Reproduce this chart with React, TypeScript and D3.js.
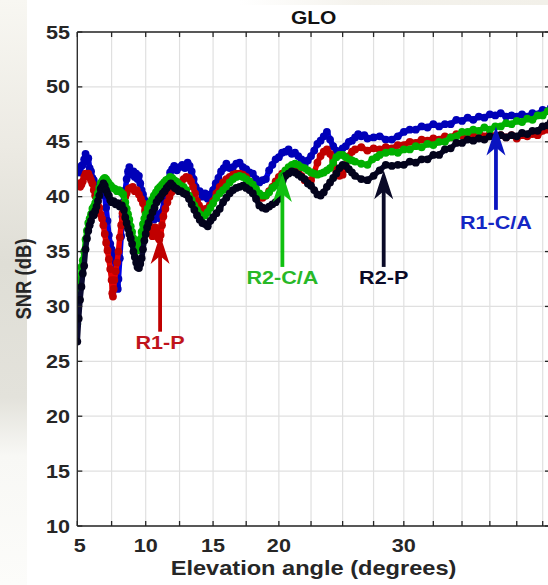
import React from 'react';
import * as d3 from 'd3';

const W = 548;
const H = 585;
const RAD = Math.PI / 180;

// Elevation (deg), SNR (dB)
const r1ca: [number, number][] = [
  [5.0,42.2],[5.1,42.6],[5.2,42.2],[5.3,42.8],[5.4,42.9],[5.5,43.4],[5.6,43.9],[5.65,43.5],[5.7,43.2],[5.8,43.5],[5.9,42.6],[6.0,42.3],[6.1,41.7],[6.2,41.5],[6.3,41.0],[6.4,40.8],[6.5,41.0],[6.6,40.5],[6.7,40.3],[6.8,40.6],[6.9,40.5],[7.0,40.1],[7.1,39.0],[7.2,37.8],[7.3,36.5],[7.4,35.7],[7.5,35.2],[7.6,34.8],[7.7,34.2],[7.8,33.2],[7.9,31.8],[7.95,31.6],[8.0,32.5],[8.1,34.4],[8.2,36.4],[8.3,38.2],[8.4,39.6],[8.5,40.6],[8.6,41.6],[8.7,42.3],[8.8,42.7],[8.9,42.3],[9.0,42.0],[9.1,42.3],[9.2,41.8],[9.3,42.1],[9.4,41.6],[9.5,41.9],[9.6,41.2],[9.7,40.6],[9.8,40.2],[9.9,39.7],[10.0,39.4],[10.1,39.0],[10.2,38.6],[10.3,38.3],[10.45,38.0],[10.6,37.9],[10.75,38.2],[10.9,38.4],[11.05,38.0],[11.2,38.6],[11.35,39.6],[11.5,40.7],[11.65,41.5],[11.8,42.2],[11.95,42.5],[12.1,42.8],[12.3,42.4],[12.5,42.7],[12.7,42.9],[12.9,42.6],[13.1,43.1],[13.25,42.8],[13.4,42.3],[13.55,41.6],[13.7,40.9],[13.85,40.5],[14.0,40.5],[14.2,40.0],[14.4,40.3],[14.6,39.8],[14.8,40.2],[15.0,40.6],[15.2,41.2],[15.4,41.7],[15.6,42.3],[15.8,42.6],[16.0,43.0],[16.25,42.6],[16.5,42.7],[16.75,43.0],[17.0,43.1],[17.25,42.7],[17.5,42.5],[17.75,42.2],[18.0,42.1],[18.25,41.6],[18.5,41.3],[18.75,41.5],[19.0,41.6],[19.25,42.4],[19.5,42.9],[19.75,43.4],[20.0,43.6],[20.25,44.0],[20.5,44.1],[20.75,44.3],[21.0,43.9],[21.25,44.0],[21.5,43.7],[21.75,43.4],[22.0,42.9],[22.25,43.3],[22.5,43.7],[22.75,44.2],[23.0,44.8],[23.25,45.1],[23.5,45.5],[23.75,45.9],[24.0,45.2],[24.25,44.6],[24.5,44.2],[24.75,44.0],[25.0,44.4],[25.25,44.6],[25.5,45.0],[25.75,45.1],[26.0,45.4],[26.25,45.7],[26.5,45.5],[26.75,45.6],[27.0,45.3],[27.5,45.4],[28.0,45.5],[28.5,45.2],[29.0,45.2],[29.5,45.5],[30.0,45.9],[30.5,46.1],[31.0,46.1],[31.5,46.4],[32.0,46.3],[32.5,46.6],[33.0,46.4],[33.5,46.6],[34.0,46.6],[34.5,47.0],[35.0,46.9],[35.5,47.2],[36.0,47.0],[36.5,47.3],[37.0,47.2],[37.5,47.5],[38.0,47.4],[38.5,47.6],[39.0,47.3],[39.5,47.4],[40.0,47.3],[40.5,47.5],[41.0,47.3],[41.5,47.6],[42.0,47.5],[42.5,47.9],[43.0,47.8],[43.3,48.1]
];

const r1p: [number, number][] = [
  [5.0,41.0],[5.1,41.2],[5.2,40.9],[5.3,41.1],[5.4,41.4],[5.5,41.8],[5.6,42.1],[5.7,41.9],[5.8,42.1],[5.9,41.8],[6.0,41.5],[6.1,41.2],[6.2,40.6],[6.3,40.1],[6.4,39.9],[6.5,39.6],[6.6,39.0],[6.7,38.4],[6.8,38.0],[6.9,37.4],[7.0,36.6],[7.1,35.8],[7.2,35.1],[7.3,34.3],[7.4,33.4],[7.5,32.4],[7.55,31.2],[7.6,30.9],[7.65,31.6],[7.7,32.4],[7.8,33.2],[7.9,34.0],[8.0,35.0],[8.1,36.3],[8.2,37.4],[8.3,38.5],[8.4,39.4],[8.5,40.0],[8.6,40.3],[8.75,40.7],[8.9,40.8],[9.05,40.9],[9.2,40.5],[9.35,40.6],[9.5,40.2],[9.65,39.8],[9.8,39.4],[9.95,38.7],[10.1,38.0],[10.25,37.4],[10.4,36.8],[10.5,36.4],[10.6,36.8],[10.7,37.2],[10.8,36.9],[10.9,36.3],[11.0,36.1],[11.1,36.5],[11.2,37.4],[11.3,38.2],[11.45,38.9],[11.6,39.5],[11.75,40.0],[11.9,40.4],[12.05,40.6],[12.2,40.8],[12.4,41.0],[12.6,41.3],[12.8,41.6],[13.0,41.8],[13.2,41.7],[13.35,41.4],[13.5,40.9],[13.65,40.3],[13.8,39.6],[13.95,39.2],[14.1,38.9],[14.3,38.8],[14.5,38.9],[14.75,39.2],[15.0,39.6],[15.25,40.3],[15.5,40.9],[15.75,41.3],[16.0,41.6],[16.25,41.8],[16.5,42.0],[16.75,42.1],[17.0,42.1],[17.25,42.0],[17.5,41.8],[17.75,41.4],[18.0,40.9],[18.25,40.3],[18.5,39.9],[18.75,39.9],[19.0,40.1],[19.25,40.5],[19.5,40.9],[19.75,41.4],[20.0,41.8],[20.25,42.1],[20.5,42.3],[20.75,42.5],[21.0,42.6],[21.25,42.5],[21.5,42.3],[21.75,41.9],[22.0,41.5],[22.25,41.4],[22.5,41.5],[22.75,42.2],[23.0,43.1],[23.25,43.7],[23.5,44.1],[23.75,44.3],[24.0,43.9],[24.25,43.3],[24.5,42.3],[24.75,41.9],[25.0,42.0],[25.25,42.8],[25.5,43.7],[25.75,44.1],[26.0,44.3],[26.5,44.5],[27.0,44.2],[27.5,44.4],[28.0,44.3],[28.5,44.5],[29.0,44.4],[29.5,44.7],[30.0,44.7],[30.5,45.0],[31.0,44.9],[31.5,45.2],[32.0,45.1],[32.5,45.3],[33.0,45.2],[33.5,45.5],[34.0,45.4],[34.5,45.7],[35.0,45.6],[35.5,45.8],[36.0,45.6],[36.5,45.8],[37.0,45.5],[37.5,45.7],[38.0,45.5],[38.5,45.6],[39.0,45.4],[39.5,45.6],[40.0,45.3],[40.5,45.6],[41.0,45.5],[41.5,45.7],[42.0,45.6],[42.5,46.0],[43.0,46.1],[43.3,46.3]
];

const r2ca: [number, number][] = [
  [5.0,28.4],[5.05,30.5],[5.1,31.6],[5.2,32.4],[5.3,33.6],[5.4,34.2],[5.5,35.0],[5.6,36.1],[5.7,36.9],[5.8,37.6],[5.9,38.0],[6.0,38.4],[6.1,38.9],[6.2,39.1],[6.3,39.4],[6.4,39.8],[6.5,40.3],[6.6,40.8],[6.7,41.2],[6.8,41.4],[6.9,41.6],[7.0,41.7],[7.1,41.6],[7.2,41.4],[7.3,41.2],[7.45,41.0],[7.6,40.8],[7.75,40.7],[7.9,40.5],[8.05,40.6],[8.2,40.4],[8.35,40.2],[8.5,39.5],[8.6,38.9],[8.7,38.4],[8.8,37.9],[8.9,37.3],[9.0,36.8],[9.1,36.2],[9.2,35.7],[9.3,35.2],[9.4,35.1],[9.5,35.6],[9.6,36.1],[9.7,36.8],[9.8,37.5],[9.9,38.0],[10.0,38.4],[10.15,38.9],[10.3,39.4],[10.45,39.7],[10.6,40.1],[10.75,40.4],[10.9,40.7],[11.05,40.9],[11.2,41.1],[11.35,41.3],[11.5,41.5],[11.65,41.6],[11.8,41.8],[11.95,41.7],[12.1,41.5],[12.25,41.4],[12.4,41.2],[12.6,41.0],[12.8,40.9],[13.0,40.6],[13.2,40.1],[13.4,39.7],[13.6,39.2],[13.8,38.8],[14.0,38.4],[14.2,38.2],[14.4,38.3],[14.6,38.6],[14.8,39.0],[15.0,39.4],[15.25,39.9],[15.5,40.3],[15.75,40.6],[16.0,40.9],[16.25,41.3],[16.5,41.6],[16.75,41.8],[17.0,41.9],[17.25,41.8],[17.5,41.6],[17.75,41.4],[18.0,41.1],[18.25,40.7],[18.5,40.3],[18.75,40.1],[19.0,40.1],[19.25,40.4],[19.5,40.8],[19.75,41.0],[20.0,41.3],[20.25,41.9],[20.5,42.4],[20.75,42.7],[21.0,42.9],[21.25,43.0],[21.5,42.9],[21.75,42.7],[22.0,42.6],[22.25,42.4],[22.5,42.2],[22.75,42.1],[23.0,42.0],[23.25,42.1],[23.5,42.2],[23.75,42.4],[24.0,42.6],[24.25,43.1],[24.5,43.6],[24.75,43.8],[25.0,43.8],[25.25,43.6],[25.5,43.4],[25.75,43.3],[26.0,43.2],[26.5,43.0],[27.0,42.9],[27.4,43.4],[27.75,43.6],[28.0,43.8],[28.5,44.0],[29.0,44.1],[29.5,44.0],[30.0,44.3],[30.5,44.3],[31.0,44.6],[31.5,44.5],[32.0,44.8],[32.5,44.7],[33.0,45.0],[33.5,45.0],[34.0,45.4],[34.5,45.5],[35.0,45.9],[35.5,45.9],[36.0,46.1],[36.5,46.0],[37.0,46.3],[37.5,46.1],[38.0,46.4],[38.5,46.4],[39.0,46.7],[39.5,46.6],[40.0,46.9],[40.5,46.8],[41.0,47.1],[41.5,47.0],[42.0,47.4],[42.5,47.4],[43.0,47.8],[43.3,47.8]
];

const r2p: [number, number][] = [
  [5.0,26.8],[5.1,28.9],[5.2,30.6],[5.3,31.8],[5.4,33.0],[5.5,33.7],[5.6,35.2],[5.7,36.2],[5.8,36.9],[5.9,37.4],[6.0,37.8],[6.1,38.4],[6.2,38.3],[6.3,38.7],[6.4,39.1],[6.5,39.6],[6.6,40.1],[6.7,40.7],[6.8,40.9],[6.9,41.2],[7.0,41.0],[7.1,40.6],[7.2,40.3],[7.3,40.1],[7.4,39.7],[7.5,39.5],[7.65,39.6],[7.8,39.3],[7.95,39.4],[8.1,39.1],[8.25,39.2],[8.4,38.8],[8.5,38.1],[8.6,37.6],[8.7,37.1],[8.8,36.6],[8.9,36.2],[9.0,35.7],[9.1,35.0],[9.2,34.5],[9.3,34.0],[9.4,33.6],[9.5,33.5],[9.6,33.9],[9.7,34.4],[9.8,35.2],[9.9,36.0],[10.0,36.6],[10.1,37.2],[10.2,37.6],[10.35,38.1],[10.5,38.6],[10.65,39.0],[10.8,39.5],[10.95,39.8],[11.1,40.0],[11.25,40.3],[11.4,40.5],[11.55,40.8],[11.7,41.0],[11.85,41.2],[12.0,41.0],[12.15,40.8],[12.3,40.7],[12.45,40.5],[12.6,40.5],[12.8,40.3],[13.0,40.2],[13.2,39.8],[13.4,39.3],[13.6,38.8],[13.8,38.3],[14.0,37.9],[14.2,37.6],[14.4,37.5],[14.6,37.3],[14.8,37.8],[15.0,38.1],[15.25,38.5],[15.5,38.9],[15.75,39.5],[16.0,39.9],[16.25,40.3],[16.5,40.6],[16.75,40.8],[17.0,40.9],[17.25,41.0],[17.5,40.8],[17.75,40.6],[18.0,40.3],[18.25,39.8],[18.5,39.2],[18.75,39.0],[19.0,38.9],[19.25,39.1],[19.5,39.3],[19.75,39.5],[20.0,39.8],[20.25,40.9],[20.5,41.9],[20.75,42.1],[21.0,42.3],[21.25,42.2],[21.5,42.0],[21.75,41.8],[22.0,41.6],[22.25,41.2],[22.5,41.0],[22.75,40.6],[23.0,40.2],[23.25,40.1],[23.5,40.4],[23.75,40.9],[24.0,41.3],[24.25,41.7],[24.5,42.1],[24.75,42.6],[25.0,42.9],[25.25,42.8],[25.5,42.5],[25.75,42.2],[26.0,41.9],[26.5,41.6],[27.0,41.5],[27.5,41.9],[28.0,42.4],[28.5,42.9],[29.0,42.8],[29.5,42.9],[30.0,42.9],[30.5,43.2],[31.0,43.1],[31.5,43.4],[32.0,43.4],[32.5,43.8],[33.0,43.8],[33.5,44.3],[34.0,44.4],[34.5,44.9],[35.0,44.9],[35.5,45.2],[36.0,45.1],[36.5,45.3],[37.0,45.2],[37.5,45.5],[38.0,45.4],[38.5,45.6],[39.0,45.4],[39.5,45.6],[40.0,45.5],[40.5,45.8],[41.0,45.7],[41.5,46.0],[42.0,46.0],[42.5,46.4],[43.0,46.5],[43.3,46.8]
];

const xTickValues = [5, 7.5, 10, 12.5, 15, 17.5, 20, 22.5, 25, 27.5, 30, 32.5, 35, 37.5, 40, 42.5];
const xTickLabels = ['5', '', '10', '', '15', '', '20', '', '', '', '30', '', '', '', '', ''];
const yTickValues = [10, 15, 20, 25, 30, 35, 40, 45, 50, 55];

const seriesNames = ['R1-C/A', 'R1-P', 'R2-C/A', 'R2-P'];
const seriesData = [r1ca, r1p, r2ca, r2p];
const lineColors = ['#0000e8', '#e80000', '#00cc00', '#0a0a30'];
const dotColors = ['#0000b8', '#c00000', '#00b000', '#03031c'];

// arrow annotations, in data coordinates (elevation, tip SNR, tail SNR, label SNR)
const arrowElev = [38.06, 11.06, 20.27, 28.33];
const arrowTip = [46.4, 36.5, 42.15, 42.4];
const arrowTail = [38.8, 27.7, 33.6, 33.6];
const labelSnr = [37.1, 26.1, 32.0, 32.0];
const arrowColors = ['#0a14c0', '#c00000', '#10c010', '#0a0a28'];
const labelColors = ['#1426c4', '#c0141c', '#28b828', '#0a0a28'];

const FONT = '"Liberation Sans", Arial, Helvetica, sans-serif';
const SX = 1.2;

export default function App() {
  const left = 77.3;
  const right = 550;
  const top = 32;
  const bottom = 526;

  const sx = d3.scaleLinear()
    .domain([Math.sin(5 * RAD), Math.sin(42.5 * RAD)])
    .range([77.3, 542.7]);
  const X = (e: number) => sx(Math.sin(e * RAD));
  const Y = d3.scaleLinear().domain([10, 55]).range([bottom, top]);

  const line = d3.line<[number, number]>().x(d => X(d[0])).y(d => Y(d[1]));

  const tickColor = '#262626';

  return (
    <svg width={W} height={H} style={{ position: 'absolute', left: 0, top: 0, background: '#fff' }}>
      <defs>
        <clipPath id="plotclip">
          <rect x={left} y={top} width={right - left} height={bottom - top} />
        </clipPath>
        <linearGradient id="bgL" x1="0" y1="0" x2="0" y2="1">
          <stop offset="0" stopColor="#f8f7f2" />
          <stop offset="0.25" stopColor="#eceae3" />
          <stop offset="0.45" stopColor="#dfded6" />
          <stop offset="0.68" stopColor="#e3e2db" />
          <stop offset="0.78" stopColor="#f8f8f5" />
          <stop offset="1" stopColor="#fcfcfa" />
        </linearGradient>
        <linearGradient id="bgT" x1="0" y1="0" x2="1" y2="0">
          <stop offset="0" stopColor="#ffffff" />
          <stop offset="0.4" stopColor="#f4f2ec" />
          <stop offset="1" stopColor="#f2f0e9" />
        </linearGradient>
      </defs>
      <rect x={0} y={0} width={W} height={H} fill="#fff" />
      <rect x={0} y={0} width={27} height={H} fill="url(#bgL)" />
      <rect x={240} y={0} width={308} height={5} fill="url(#bgT)" />

      {/* plot background */}
      <rect x={left} y={top} width={right - left} height={bottom - top} fill="#fff" />

      {/* grid */}
      {xTickValues.map((v, i) => (
        <line key={'gx' + i} x1={X(v)} x2={X(v)} y1={top} y2={bottom} stroke="#e0e0e0" strokeWidth={1.2} />
      ))}
      {yTickValues.map((v, i) => (
        <line key={'gy' + i} x1={left} x2={right} y1={Y(v)} y2={Y(v)} stroke="#e0e0e0" strokeWidth={1.2} />
      ))}

      {/* data */}
      <g clipPath="url(#plotclip)">
        {seriesData.map((s, i) => (
          <g key={'s' + i}>
            <path d={line(s) || ''} fill="none" stroke={lineColors[i]} strokeWidth={5.5} strokeLinejoin="round" />
            {s.map((d, j) => (
              <circle key={j} cx={X(d[0])} cy={Y(d[1])} r={3.9} fill={dotColors[i]} />
            ))}
          </g>
        ))}
      </g>

      {/* arrows */}
      {seriesNames.map((name, i) => {
        const ax = X(arrowElev[i]);
        const ty = Y(arrowTip[i]);
        const by = Y(arrowTail[i]);
        return (
          <g key={'a' + i}>
            <line x1={ax} x2={ax} y1={ty + 18} y2={by} stroke={arrowColors[i]} strokeWidth={3.8} />
            <path
              d={`M${ax},${ty} L${ax + 9.5},${ty + 29} L${ax},${ty + 21} L${ax - 9.5},${ty + 29} Z`}
              fill={arrowColors[i]}
            />
            <text
              transform={`translate(${ax},${Y(labelSnr[i])}) scale(${SX},1)`}
              textAnchor="middle"
              fontFamily={FONT}
              fontWeight="bold"
              fontSize={18}
              fill={labelColors[i]}
            >
              {name}
            </text>
          </g>
        );
      })}

      {/* axes box */}
      <g stroke={tickColor} strokeWidth={1.3} fill="none">
        <line x1={left} x2={right} y1={bottom} y2={bottom} />
        <line x1={left} x2={right} y1={top} y2={top} />
        <line x1={left} x2={left} y1={top} y2={bottom} />
        <line x1={right} x2={right} y1={top} y2={bottom} />
        {xTickValues.map((v, i) => (
          <g key={'tx' + i}>
            <line x1={X(v)} x2={X(v)} y1={bottom} y2={bottom - 5} />
            <line x1={X(v)} x2={X(v)} y1={top} y2={top + 5} />
          </g>
        ))}
        {yTickValues.map((v, i) => (
          <g key={'ty' + i}>
            <line x1={left} x2={left + 5} y1={Y(v)} y2={Y(v)} />
            <line x1={right} x2={right - 5} y1={Y(v)} y2={Y(v)} />
          </g>
        ))}
      </g>

      {/* tick labels */}
      {xTickValues.map((v, i) =>
        xTickLabels[i] ? (
          <text
            key={'xl' + i}
            transform={`translate(${X(v) + (v === 5 ? 2.5 : 0)},552) scale(${SX},1)`}
            textAnchor="middle"
            fontFamily={FONT}
            fontWeight="bold"
            fontSize={18}
            fill={tickColor}
          >
            {xTickLabels[i]}
          </text>
        ) : null
      )}
      {yTickValues.map((v, i) => (
        <text
          key={'yl' + i}
          transform={`translate(70,${Y(v) + 6.5}) scale(${SX},1)`}
          textAnchor="end"
          fontFamily={FONT}
          fontWeight="bold"
          fontSize={18}
          fill={tickColor}
        >
          {String(v)}
        </text>
      ))}

      {/* axis titles */}
      <text
        transform={`translate(313.5,575) scale(1.18,1)`}
        textAnchor="middle"
        fontFamily={FONT}
        fontWeight="bold"
        fontSize={20}
        fill={tickColor}
      >
        Elevation angle (degrees)
      </text>
      <text
        transform={`translate(31,${(top + bottom) / 2}) rotate(-90) scale(1,1.2)`}
        textAnchor="middle"
        fontFamily={FONT}
        fontWeight="bold"
        fontSize={18.5}
        fill={tickColor}
      >
        SNR (dB)
      </text>
      <text
        transform={`translate(${(left + right) / 2},24) scale(${SX},1)`}
        textAnchor="middle"
        fontFamily={FONT}
        fontWeight="bold"
        fontSize={17.5}
        fill="#111"
      >
        GLO
      </text>
    </svg>
  );
}
